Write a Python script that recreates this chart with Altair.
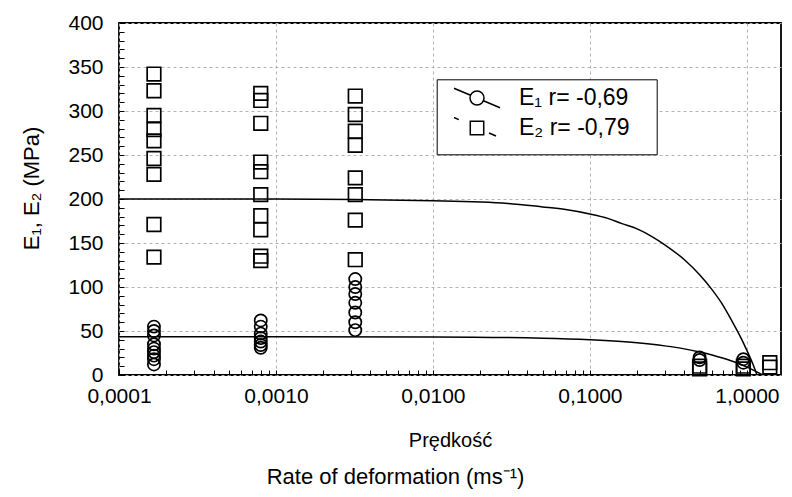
import altair as alt
import pandas as pd

# ---------------- data ----------------
rate_levels = [0.000167, 0.0008, 0.0032, 0.5, 0.95, 1.4]
E1_values = [
    [55, 50, 45, 35, 30, 26, 22, 18, 12],
    [62, 55, 47, 42, 38, 34, 31],
    [109, 100, 92, 82, 71, 60, 51],
    [20, 17],
    [18, 14],
    [],
]
E2_values = [
    [342, 323, 295, 279, 266, 246, 228, 171, 134],
    [320, 312, 286, 242, 231, 205, 181, 165, 135, 130],
    [317, 296, 277, 261, 224, 205, 176, 131],
    [10, 7],
    [10, 7],
    [14, 9],
]

# fitted curves
fit_rates_E1 = [0.0001, 0.001, 0.01, 0.05, 0.1, 0.2, 0.3, 0.4, 0.5, 0.6, 0.7, 0.8, 0.9, 1.0, 1.1, 1.2, 1.26]
fit_E1 = [43.5, 43.5, 43.2, 41.8, 40.0, 36.6, 33.1, 29.7, 26.2, 22.8, 19.3, 15.9, 12.5, 9.0, 5.6, 2.1, 0.0]
fit_rates_E2 = [0.0001, 0.001, 0.01, 0.03, 0.05, 0.07, 0.1, 0.13, 0.16, 0.2, 0.25, 0.3, 0.4, 0.5, 0.6, 0.7, 0.8, 0.9, 1.0, 1.1, 1.16]
fit_E2 = [200, 200, 198, 195, 191, 188, 183, 178, 172, 166, 157, 148, 131, 114, 97, 80, 62, 45, 28, 11, 0]

legend_labels = ["E\u2081 r= -0,69", "E\u2082 r= -0,79"]

x_decades = [0.0001, 0.001, 0.01, 0.1, 1]
y_ticks = [0, 50, 100, 150, 200, 250, 300, 350, 400]
y_minor = list(range(0, 401, 10))
x_minor = [m * d for d in [0.0001, 0.001, 0.01, 0.1, 1] for m in range(1, 10) if m * d <= 1.65]

# ---------------- tables ----------------
rows = []
for r, vals in zip(rate_levels, E1_values):
    rows += [{"rate": r, "E": v, "series": "E1"} for v in vals]
for r, vals in zip(rate_levels, E2_values):
    rows += [{"rate": r, "E": v, "series": "E2"} for v in vals]
pts = pd.DataFrame(rows)

curves = pd.DataFrame(
    [{"rate": r, "E": v, "series": "E1"} for r, v in zip(fit_rates_E1, fit_E1)]
    + [{"rate": r, "E": v, "series": "E2"} for r, v in zip(fit_rates_E2, fit_E2)]
)

leg = pd.DataFrame({"rate": [10, 10], "E": [500, 500], "lab": legend_labels})

W, H = 662, 352
FONT = "Liberation Sans"

xscale = alt.Scale(type="log", domain=[0.0001, 1.65], nice=False)
yscale = alt.Scale(domain=[0, 400], nice=False)

grid_kw = dict(grid=True, gridColor="#b4b4b4", gridDash=[3, 3], gridWidth=1)

x_main = alt.Axis(
    values=x_decades,
    labelExpr="replace(format(datum.value, '.4f'), '.', ',')",
    labelFlush=False, labelPadding=10, labelFontSize=21, labelColor="black",
    tickSize=0, domain=False, title="Prędkość", titleFontSize=20,
    titleFontWeight="normal", titleColor="black", titleY=65, titleBaseline="middle",
    **grid_kw,
)
y_main = alt.Axis(
    values=y_ticks, labelPadding=16, labelFontSize=21, labelColor="black",
    tickSize=0, domain=False, title="E\u2081, E\u2082 (MPa)", titleFontSize=22,
    titleFontWeight="normal", titleColor="#000000", titleX=-88, titleY=165,
    titleAngle=270, titleAlign="center", titleBaseline="middle",
    **grid_kw,
)

pts_layer = alt.Chart(pts).mark_point(filled=False, strokeWidth=1.7, color="black", opacity=1).encode(
    x=alt.X("rate:Q", scale=xscale, axis=x_main),
    y=alt.Y("E:Q", scale=yscale, axis=y_main),
    shape=alt.Shape("series:N", scale=alt.Scale(domain=["E1", "E2"], range=["circle", "square"]), legend=None),
    size=alt.Size("series:N", scale=alt.Scale(domain=["E1", "E2"], range=[150, 185]), legend=None),
)

tick_x = alt.Axis(orient="top", offset=-H, values=x_minor, labels=False, grid=False, domain=False,
                  ticks=True, tickSize=5, tickColor="black", tickWidth=1, title=None)
tick_y = alt.Axis(orient="right", offset=-W, values=y_minor, labels=False, grid=False, domain=False,
                  ticks=True, tickSize=5, tickColor="black", tickWidth=1, title=None)

curve_layer = alt.Chart(curves).mark_line(color="black", strokeWidth=1.5, clip=True, interpolate="monotone").encode(
    x=alt.X("rate:Q", scale=xscale, axis=tick_x),
    y=alt.Y("E:Q", scale=yscale, axis=tick_y),
    detail="series:N",
)

# legend symbols: line + marker (custom paths)
sh = 1.543
circ = (f"M{-1.643+sh},-0.693 L{-0.461+sh},-0.194 M{0.461+sh},0.194 L{1.643+sh},0.693 "
        f"M{0.5+sh},0 C{0.5+sh},0.276 {0.276+sh},0.5 {sh},0.5 C{-0.276+sh},0.5 {-0.5+sh},0.276 {-0.5+sh},0 "
        f"C{-0.5+sh},-0.276 {-0.276+sh},-0.5 {sh},-0.5 C{0.276+sh},-0.5 {0.5+sh},-0.276 {0.5+sh},0 Z")
sq = (f"M{-1.643+sh},-0.75 L{-1.3+sh},-0.6 M{0.857+sh},0.36 L{1.357+sh},0.57 "
      f"M{-0.48+sh},-0.48 L{0.48+sh},-0.48 L{0.48+sh},0.48 L{-0.48+sh},0.48 Z")

pad = "\u00a0\u2800"  # blank filler to widen the legend frame

legend_layer = alt.Chart(leg).mark_point(filled=False, color="black", clip=True, strokeWidth=1.5).encode(
    x=alt.X("rate:Q", scale=xscale, axis=None),
    y=alt.Y("E:Q", scale=yscale, axis=None),
    shape=alt.Shape(
        "lab:N",
        scale=alt.Scale(domain=legend_labels, range=[circ, sq]),
        legend=alt.Legend(
            orient="none", legendX=317.7, legendY=56.3, padding=3.7,
            title=" ", titleOrient="bottom", titleFontSize=6, titlePadding=4,
            strokeColor="black", fillColor="white",
            symbolSize=784, symbolStrokeColor="black", symbolFillColor="white",
            symbolStrokeWidth=1.5, symbolOpacity=1, rowPadding=2,
            labelOffset=48.6, labelFontSize=23, labelColor="black", labelFont=FONT,
            labelExpr=f"datum.label + '{pad}'", labelLimit=400,
        ),
    ),
)

chart = (
    alt.layer(pts_layer, curve_layer, legend_layer)
    .resolve_axis(x="independent", y="independent")
    .resolve_scale(shape="independent", size="independent")
    .properties(
        width=W, height=H,
        autosize=alt.AutoSizeParams(type="none"),
        padding={"left": 119, "top": 23, "right": 11, "bottom": 122},
        title=alt.TitleParams(
            "Rate of deformation (ms\u207b\u00b9)", orient="bottom", anchor="middle",
            frame="bounds", fontSize=22, fontWeight="normal", font=FONT, color="black",
            offset=17, dx=-5,
        ),
        background="white",
    )
    .configure(font=FONT)
    .configure_view(stroke="black", strokeWidth=1.8)
    .configure_axis(labelFont=FONT, titleFont=FONT)
)

chart.save("out.html", embed_options={"renderer": "svg", "actions": False})
